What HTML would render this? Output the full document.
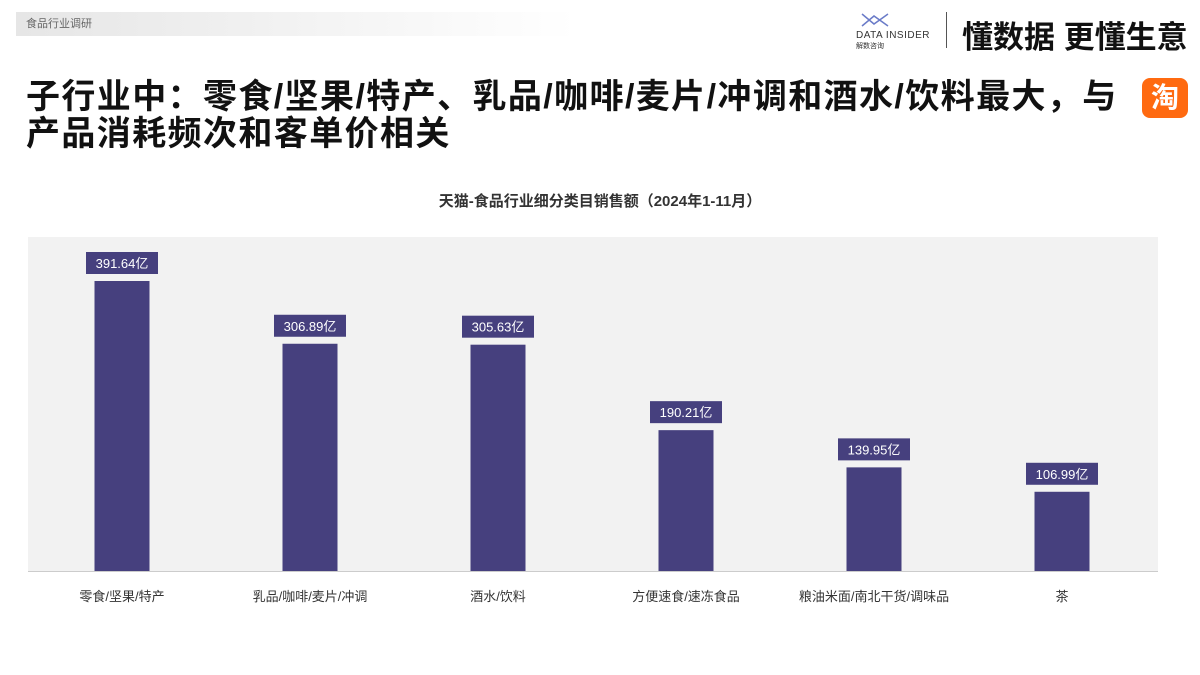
<!DOCTYPE html>
<html><head><meta charset="utf-8"><style>
body{margin:0;width:1200px;height:675px;background:#fff;position:relative;overflow:hidden;font-family:"Liberation Sans","Noto Sans CJK SC",sans-serif}
.tag{position:absolute;left:16px;top:12px;width:560px;height:24px;background:linear-gradient(90deg,#e6e6e6,#fff);font-size:11px;color:#666;line-height:24px;padding-left:10px;box-sizing:border-box}
.title{position:absolute;left:26px;top:79px;font-size:34px;font-weight:bold;color:#111;line-height:37px;letter-spacing:1.4px;white-space:nowrap}
.tb{position:absolute;left:1142px;top:78px;width:46px;height:40px;background:#ff6a10;border-radius:8px;color:#fff;font-size:28px;font-weight:bold;text-align:center;line-height:40px}
.slogan{position:absolute;left:962px;top:12px;font-size:31px;font-weight:bold;color:#111;white-space:nowrap}
.logo{position:absolute;left:856px;top:12px;font-size:9px;color:#333}
.sep{position:absolute;left:946px;top:12px;width:1px;height:36px;background:#555}
.ctitle{position:absolute;left:0;width:1200px;top:190px;text-align:center;font-size:15px;font-weight:bold;color:#333}
</style></head><body>
<div class="tag">食品行业调研</div>
<div class="logo"><svg width="30" height="16" style="margin-left:4px"><path d="M2 2 L14 12 L28 2 M2 14 L14 4 L28 14" stroke="#6a7bc8" fill="none" stroke-width="1.5"/></svg><div style="font-size:10px;letter-spacing:0.5px">DATA INSIDER</div><div style="font-size:7px">解数咨询</div></div>
<div class="sep"></div>
<div class="slogan">懂数据 更懂生意</div>
<div class="title">子行业中：零食/坚果/特产、乳品/咖啡/麦片/冲调和酒水/饮料最大，与<br>产品消耗频次和客单价相关</div>
<div class="tb">淘</div>
<div class="ctitle">天猫-食品行业细分类目销售额（2024年1-11月）</div>
<svg id="chart" width="1200" height="675" style="position:absolute;left:0;top:0">
<rect x="28" y="237" width="1130" height="335" fill="#f2f2f2"/>
<line x1="28" y1="571.5" x2="1158" y2="571.5" stroke="#ccc"/>
</svg>
<script>
const categories=["零食/坚果/特产","乳品/咖啡/麦片/冲调","酒水/饮料","方便速食/速冻食品","粮油米面/南北干货/调味品","茶"];
const values=[391.64,306.89,305.63,190.21,139.95,106.99];
const valueLabels=["391.64亿","306.89亿","305.63亿","190.21亿","139.95亿","106.99亿"];
const svg=document.getElementById('chart');
const NS='http://www.w3.org/2000/svg';
const base=571,scale=290/391.64;
const xc=i=>122+i*188;
const y=v=>base-v*scale;
categories.forEach((c,i)=>{
  const top=y(values[i]);
  const r=document.createElementNS(NS,'rect');
  r.setAttribute('x',xc(i)-27.5);r.setAttribute('y',top);r.setAttribute('width',55);r.setAttribute('height',base-top);r.setAttribute('fill','#46407e');
  
  
  svg.appendChild(r);
  const b=document.createElementNS(NS,'rect');
  b.setAttribute('x',xc(i)-36);b.setAttribute('y',top-29);b.setAttribute('width',72);b.setAttribute('height',22);b.setAttribute('fill','#46407e');
  
  
  svg.appendChild(b);
  const t=document.createElementNS(NS,'text');
  t.setAttribute('x',xc(i));t.setAttribute('y',top-13);t.setAttribute('text-anchor','middle');t.setAttribute('fill','#fff');t.setAttribute('font-size','13');
  t.textContent=valueLabels[i];
  
  
  svg.appendChild(t);
  const l=document.createElementNS(NS,'text');
  l.setAttribute('x',xc(i));l.setAttribute('y',601);l.setAttribute('text-anchor','middle');l.setAttribute('fill','#333');l.setAttribute('font-size','13');
  l.textContent=c;
  
  
  svg.appendChild(l);
});
</script>
</body></html>
